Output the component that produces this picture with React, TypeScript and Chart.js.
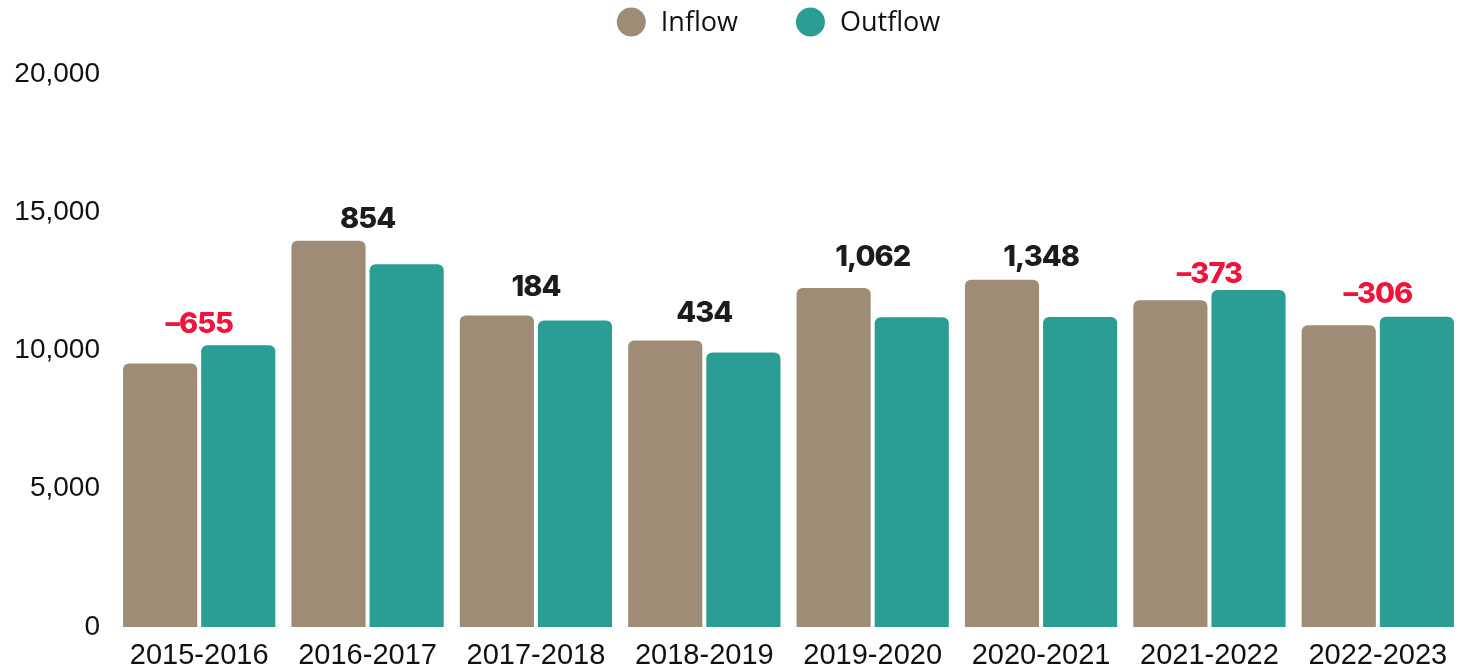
import React, { useEffect, useRef } from "react";
import { Chart, registerables } from "chart.js";

Chart.register(...registerables);

const categories = [
  "2015-2016",
  "2016-2017",
  "2017-2018",
  "2018-2019",
  "2019-2020",
  "2020-2021",
  "2021-2022",
  "2022-2023",
];
const inflow = [9533, 13970, 11270, 10360, 12262, 12558, 11817, 10914];
const outflow = [10188, 13116, 11086, 9926, 11200, 11210, 12190, 11220];
const netChange = [-655, 854, 184, 434, 1062, 1348, -373, -306];
// value level (in axis units) at which each net-change label sits
const netLabelLevel = [10620, 14420, 11970, 11030, 13060, 13060, 12440, 11720];
const yTicks = [0, 5000, 10000, 15000, 20000];
const seriesNames = ["Inflow", "Outflow"];
const seriesColors = ["#9e8c76", "#2a9d94"];

const netLabelPlugin = {
  id: "netLabels",
  afterDatasetsDraw(chart: any) {
    const ctx = chart.ctx;
    const xs = chart.scales.x;
    const ys = chart.scales.y;
    ctx.save();
    ctx.font = "800 29px Inter";
    try {
      (ctx as any).letterSpacing = "-1px";
    } catch (e) {}
    ctx.textAlign = "center";
    ctx.textBaseline = "alphabetic";
    netChange.forEach((v, i) => {
      const py = ys.getPixelForValue(netLabelLevel[i]);
      const px = xs.getPixelForValue(i);
      ctx.fillStyle = v < 0 ? "#f0133b" : "#1c1c1c";
      const txt = (v < 0 ? "–" : "") + Math.abs(v).toLocaleString("en-US");
      ctx.fillText(txt, px, py);
    });
    ctx.restore();
  },
};

const legendPlugin = {
  id: "topLegend",
  afterDraw(chart: any) {
    const ctx = chart.ctx;
    ctx.save();
    ctx.font = "27px 'Open Sans'";
    ctx.textBaseline = "middle";
    ctx.textAlign = "left";
    const r = 14.5;
    const gapText = 15;
    const gapItem = 58;
    const widths = seriesNames.map((n) => ctx.measureText(n).width);
    const total =
      widths.reduce((a, w) => a + 2 * r + gapText + w, 0) +
      gapItem * (seriesNames.length - 1);
    const cx = (chart.chartArea.left + chart.chartArea.right) / 2 - 10;
    let x = cx - total / 2;
    const cy = 22;
    seriesNames.forEach((n, i) => {
      ctx.fillStyle = seriesColors[i];
      ctx.beginPath();
      ctx.arc(x + r, cy, r, 0, Math.PI * 2);
      ctx.fill();
      ctx.fillStyle = "#111111";
      ctx.fillText(n, x + 2 * r + gapText, cy + 1);
      x += 2 * r + gapText + widths[i] + gapItem;
    });
    ctx.restore();
  },
};

export default function App() {
  const ref = useRef<HTMLCanvasElement | null>(null);

  useEffect(() => {
    if (!ref.current) return;
    const chart = new Chart(ref.current, {
      type: "bar",
      data: {
        labels: categories,
        datasets: [
          {
            label: seriesNames[0],
            data: inflow,
            backgroundColor: seriesColors[0],
            borderRadius: 6,
            borderSkipped: "start",
            categoryPercentage: 0.928,
            barPercentage: 0.949,
          },
          {
            label: seriesNames[1],
            data: outflow,
            backgroundColor: seriesColors[1],
            borderRadius: 6,
            borderSkipped: "start",
            categoryPercentage: 0.928,
            barPercentage: 0.949,
          },
        ],
      },
      options: {
        animation: false,
        responsive: false,
        maintainAspectRatio: false,
        layout: { padding: { top: 74, right: 2, bottom: 0, left: 0 } },
        plugins: {
          legend: { display: false },
          tooltip: { enabled: false },
        },
        scales: {
          x: {
            afterFit(scale: any) {
              scale.height = 44;
            },
            grid: { display: false, drawTicks: false },
            border: { display: false },
            ticks: {
              color: "#111111",
              font: { family: "'Liberation Sans', Arial", size: 29 },
              padding: 12,
              maxRotation: 0,
              autoSkip: false,
            },
          },
          y: {
            min: 0,
            max: 20000,
            afterBuildTicks(scale: any) {
              scale.ticks = yTicks.map((v) => ({ value: v }));
            },
            afterFit(scale: any) {
              scale.width = 115;
            },
            grid: { display: false, drawTicks: false },
            border: { display: false },
            ticks: {
              color: "#111111",
              font: { family: "'Liberation Sans', Arial", size: 28 },
              padding: 15,
              callback: (v: any) => Number(v).toLocaleString("en-US"),
            },
          },
        },
      },
      plugins: [netLabelPlugin, legendPlugin],
    });
    return () => chart.destroy();
  }, []);

  return (
    <div
      style={{
        position: "fixed",
        left: 0,
        top: 0,
        width: 1464,
        height: 671,
        background: "#ffffff",
      }}
    >
      <canvas ref={ref} width={1464} height={671} style={{ display: "block" }} />
    </div>
  );
}
